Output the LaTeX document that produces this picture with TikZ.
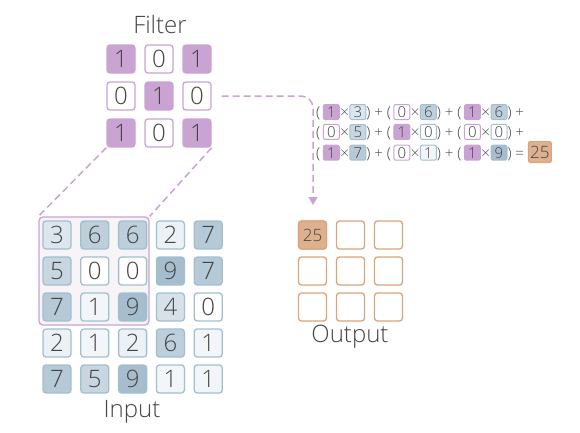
\documentclass[tikz,border=0pt]{standalone}
\usepackage{fontspec}
\setmainfont{Open Sans}[UprightFont={* Light}]
\usetikzlibrary{arrows.meta}
\definecolor{txt}{HTML}{444444}
\definecolor{fpur}{HTML}{C9A3D1}
\definecolor{ibord}{HTML}{A3BFCF}
\definecolor{v0}{HTML}{FFFFFF}
\definecolor{v1}{HTML}{F3F6F9}
\definecolor{v2}{HTML}{EBF1F5}
\definecolor{v3}{HTML}{DCE6EE}
\definecolor{v4}{HTML}{D6E1E9}
\definecolor{v5}{HTML}{C7D6E0}
\definecolor{v6}{HTML}{BDCFDB}
\definecolor{v7}{HTML}{B5C9D6}
\definecolor{v9}{HTML}{A5BDCC}
\definecolor{obord}{HTML}{D9A47A}
\definecolor{ofill}{HTML}{DFB08E}
\definecolor{hlfill}{HTML}{F6F4F7}
\tikzset{
  cell/.style={draw, line width=1.3pt, rounded corners=3pt, minimum width=28pt, minimum height=28pt, inner sep=0pt, text=txt, font=\fontsize{24}{24}\selectfont},
  fcell/.style={cell, draw=fpur, fill=#1},
  icell/.style={cell, draw=ibord, fill=v#1},
  ocell/.style={cell, draw=obord},
  lbl/.style={text=txt, font=\fontsize{24}{24}\selectfont, inner sep=0pt},
  conn/.style={draw=fpur, line width=1.5pt, dash pattern=on 7pt off 4pt},
  ebox/.style={draw, line width=1pt, rounded corners=2pt, minimum width=16pt, minimum height=15pt, inner sep=0.5pt, text=txt, font=\fontsize{15}{15}\selectfont},
  eq/.style={text=txt, font=\fontsize{15}{15}\selectfont, inner sep=0pt, anchor=west}
}
\newcommand\fb[2]{\tikz[baseline=(b.base)]\node[ebox,draw=fpur,fill=#1](b){#2};}
\newcommand\ib[1]{\tikz[baseline=(b.base)]\node[ebox,draw=ibord,fill=v#1](b){#1};}
\newcommand\ob[1]{\tikz[baseline=(b.base)]\node[ebox,draw=obord,fill=ofill,minimum width=23pt,minimum height=21pt,font=\fontsize{17}{17}\selectfont](b){#1};}
\newcommand\tm{\kern0.5pt×\kern0.5pt}
\begin{document}
\begin{tikzpicture}[x=1pt,y=-1pt]
\useasboundingbox (0,0) rectangle (580,432);
% Filter
\node[lbl] (flbl) at (160,24) {Filter};
\node[fcell=fpur]  (f11) at (121,59) {1};
\node[fcell=white] (f12) at (159,59) {0};
\node[fcell=fpur]  (f13) at (197,59) {1};
\node[fcell=white] (f21) at (121,96) {0};
\node[fcell=fpur]  (f22) at (159,96) {1};
\node[fcell=white] (f23) at (197,96) {0};
\node[fcell=fpur]  (f31) at (121,133) {1};
\node[fcell=white] (f32) at (159,133) {0};
\node[fcell=fpur]  (f33) at (197,133) {1};
% highlight
\node[draw=fpur, fill=hlfill, rounded corners=4pt, line width=1.3pt, minimum width=110pt, minimum height=108pt, inner sep=0pt] (hl) at (94,271) {};
\draw[conn] (f31.south west) -- (hl.north west);
\draw[conn] (f33.south east) -- (hl.north east);
% Input
\foreach \r/\y/\vals in {1/235/{3,6,6,2,7}, 2/271/{5,0,0,9,7}, 3/307/{7,1,9,4,0}, 4/343/{2,1,2,6,1}, 5/379/{7,5,9,1,1}}{
  \foreach \v [count=\c] in \vals {
    \node[icell=\v] (i\r\c) at ({57+37.8*(\c-1)},\y) {\v};
  }
}
\node[lbl] (ilbl) at (132,412) {Input};
% Output
\foreach \r/\y in {1/235,2/271,3/307}{
  \foreach \c/\x in {1/312.5,2/350.5,3/388.5}{
    \node[ocell] (o\r\c) at (\x,\y) {};
  }
}
\node[cell, draw=obord, fill=ofill, font=\fontsize{17}{17}\selectfont] (o11b) at (o11) {25};
\node[lbl] (olbl) at (350,337) {Output};
% arrow
\coordinate (aend) at (313,205);
\draw[conn, -{Triangle[width=9pt,length=8pt]}, rounded corners=12pt] ([xshift=10pt]f23.east) -| (aend);
% equation
\node[eq] (e1) at (316,112) {(\,\fb{fpur}{1}\tm\ib{3}) + (\,\fb{white}{0}\tm\ib{6}) + (\,\fb{fpur}{1}\tm\ib{6}) +};
\node[eq] (e2) at (316,132) {(\,\fb{white}{0}\tm\ib{5}) + (\,\fb{fpur}{1}\tm\ib{0}) + (\,\fb{white}{0}\tm\ib{0}) +};
\node[eq] (e3) at (316,152) {(\,\fb{fpur}{1}\tm\ib{7}) + (\,\fb{white}{0}\tm\ib{1}) + (\,\fb{fpur}{1}\tm\ib{9}) = \ob{25}};
\end{tikzpicture}
\end{document}
